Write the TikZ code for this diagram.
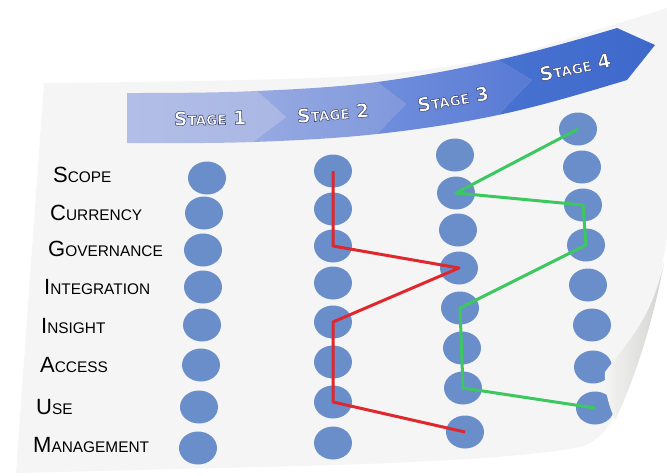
\documentclass[tikz,border=0pt]{standalone}
\usepackage{fontspec}
\setmainfont{Liberation Sans}
\newfontfamily\stagefont{DejaVu Sans}
\usetikzlibrary{shapes.geometric}
\definecolor{paperc}{RGB}{245,245,245}
\definecolor{ballc}{RGB}{106,142,202}
\definecolor{redc}{RGB}{222,40,45}
\definecolor{greenc}{RGB}{60,200,95}
\definecolor{sA}{RGB}{178,190,231}
\definecolor{sAr}{RGB}{170,183,228}
\definecolor{sB}{RGB}{150,170,226}
\definecolor{sBr}{RGB}{128,152,220}
\definecolor{sC}{RGB}{112,142,220}
\definecolor{sCr}{RGB}{88,122,212}
\definecolor{sD}{RGB}{72,114,208}
\definecolor{sDr}{RGB}{62,105,204}
\definecolor{curlc}{RGB}{210,210,206}
\newcommand\Lab[2]{{\fontsize{22}{22}\selectfont #1}{\fontsize{15.4}{15.4}\selectfont #2}}
\newcommand\StgTxt[1]{{\stagefont\bfseries\fontsize{19}{19}\selectfont S}{\stagefont\bfseries\fontsize{13.5}{13.5}\selectfont TAGE}{\stagefont\bfseries\fontsize{19}{19}\selectfont\ #1}}
\newcommand\Stg[1]{\special{pdf:literal direct 2 Tr 0.55 w 0.25 0.28 0.42 RG}\StgTxt{#1}\special{pdf:literal direct 0 Tr}}
\tikzset{
  ball/.style={ellipse, fill=ballc, minimum width=38pt, minimum height=33pt, inner sep=0pt},
  lab/.style={anchor=west, inner sep=0pt, text=black},
  stg/.style={text=white, inner sep=0pt},
  redline/.style={draw=redc, line width=3pt, line join=round},
  greenline/.style={draw=greenc, line width=3pt, line join=round}
}
\begin{document}
\begin{tikzpicture}[x=1pt,y=-1pt]
\useasboundingbox (0,0) rectangle (667,475);
\fill[white] (0,0) rectangle (667,475);
% paper
\fill[paperc] plot[smooth] coordinates {(44,83) (200,81) (374,75) (498,58) (590,32) (667,8)}
  -- (667,235) .. controls (660,290) and (640,360) .. (617,407)
  .. controls (610,428) and (600,440) .. (580,447)
  .. controls (540,455) and (450,462) .. (300,466)
  -- (16,473) -- cycle;
% banner segments
\shade[left color=sA, right color=sAr]
  (127,93) .. controls (170,93) and (213.7,92.9) .. (257,91)
  -- (286,117) -- (253,142)
  .. controls (211,143.5) and (169,143) .. (127,143) -- cycle;
\shade[left color=sB, right color=sBr]
  (257,91) .. controls (297,89.2) and (337,87.2) .. (377,82)
  -- (406,104) -- (377,134)
  .. controls (335.7,138.5) and (294.3,140.5) .. (253,142)
  -- (286,117) -- cycle;
\shade[left color=sC, right color=sCr]
  (377,82) .. controls (417.3,76.8) and (457.7,69.1) .. (498,60)
  -- (532,80) -- (498,115)
  .. controls (457.7,123.5) and (417.3,129.6) .. (377,134)
  -- (406,104) -- cycle;
\shade[left color=sD, right color=sDr]
  (498,60) .. controls (537.7,51.1) and (577.3,39.9) .. (617,28)
  -- (655,45) -- (627,80)
  .. controls (584,92.9) and (541,106) .. (498,115)
  -- (532,80) -- cycle;
% stage texts
\node[stg, rotate=1] (s1) at (210,118) {\Stg{1}};
\node[stg, rotate=5] (s2) at (333,113) {\Stg{2}};
\node[stg, rotate=10] (s3) at (453,99) {\Stg{3}};
\node[stg, rotate=12] (s4) at (575,67) {\Stg{4}};
% labels
\node[lab] (lscope) at (53,175) {\Lab{S}{COPE}};
\node[lab] (lcur) at (50,213) {\Lab{C}{URRENCY}};
\node[lab] (lgov) at (48,249) {\Lab{G}{OVERNANCE}};
\node[lab] (lint) at (44,287) {\Lab{I}{NTEGRATION}};
\node[lab] (lins) at (41,326) {\Lab{I}{NSIGHT}};
\node[lab] (lacc) at (40,365) {\Lab{A}{CCESS}};
\node[lab] (luse) at (36,407) {\Lab{U}{SE}};
\node[lab] (lman) at (33,445) {\Lab{M}{ANAGEMENT}};
% balls column 1
\node[ball] (c1r1) at (207,178) {};
\node[ball] (c1r2) at (204,213) {};
\node[ball] (c1r3) at (203,250) {};
\node[ball] (c1r4) at (203,287) {};
\node[ball] (c1r5) at (202,325) {};
\node[ball] (c1r6) at (201,365) {};
\node[ball] (c1r7) at (199,407) {};
\node[ball] (c1r8) at (198,448) {};
% column 2
\node[ball] (c2r1) at (333,171) {};
\node[ball] (c2r2) at (333,209) {};
\node[ball] (c2r3) at (333,246) {};
\node[ball] (c2r4) at (333,283) {};
\node[ball] (c2r5) at (333,322) {};
\node[ball] (c2r6) at (333,362) {};
\node[ball] (c2r7) at (333,402) {};
\node[ball] (c2r8) at (333,443) {};
% column 3
\node[ball] (c3r1) at (455,155) {};
\node[ball] (c3r2) at (456,193) {};
\node[ball] (c3r3) at (458,230) {};
\node[ball] (c3r4) at (459,268) {};
\node[ball] (c3r5) at (460,308) {};
\node[ball] (c3r6) at (462,348) {};
\node[ball] (c3r7) at (463,388) {};
\node[ball] (c3r8) at (465,432) {};
% column 4
\node[ball] (c4r1) at (578,129) {};
\node[ball] (c4r2) at (582,167) {};
\node[ball] (c4r3) at (583,205) {};
\node[ball] (c4r4) at (586,245) {};
\node[ball] (c4r5) at (588,285) {};
\node[ball] (c4r6) at (592,325) {};
\node[ball] (c4r7) at (593,367) {};
\node[ball] (c4r8) at (595,408) {};
% paper curl
\shade[left color=paperc, right color=curlc]
  (664,262) .. controls (652,320) and (625,345) .. (605,372)
  .. controls (604,392) and (610,408) .. (615,420)
  .. controls (630,390) and (652,330) .. (664,262) -- cycle;
% paths
\draw[redline] (c2r1.center) -- (c2r3.center) -- (c3r4.center) -- (c2r5.center)
  -- (c2r7.center) -- (c3r8.center);
\draw[greenline] (c4r1.center) -- (c3r2.center) -- (c4r3.center) -- (c4r4.center)
  -- (c3r5.center) -- (c3r7.center) -- (c4r8.center);
\end{tikzpicture}
\end{document}
